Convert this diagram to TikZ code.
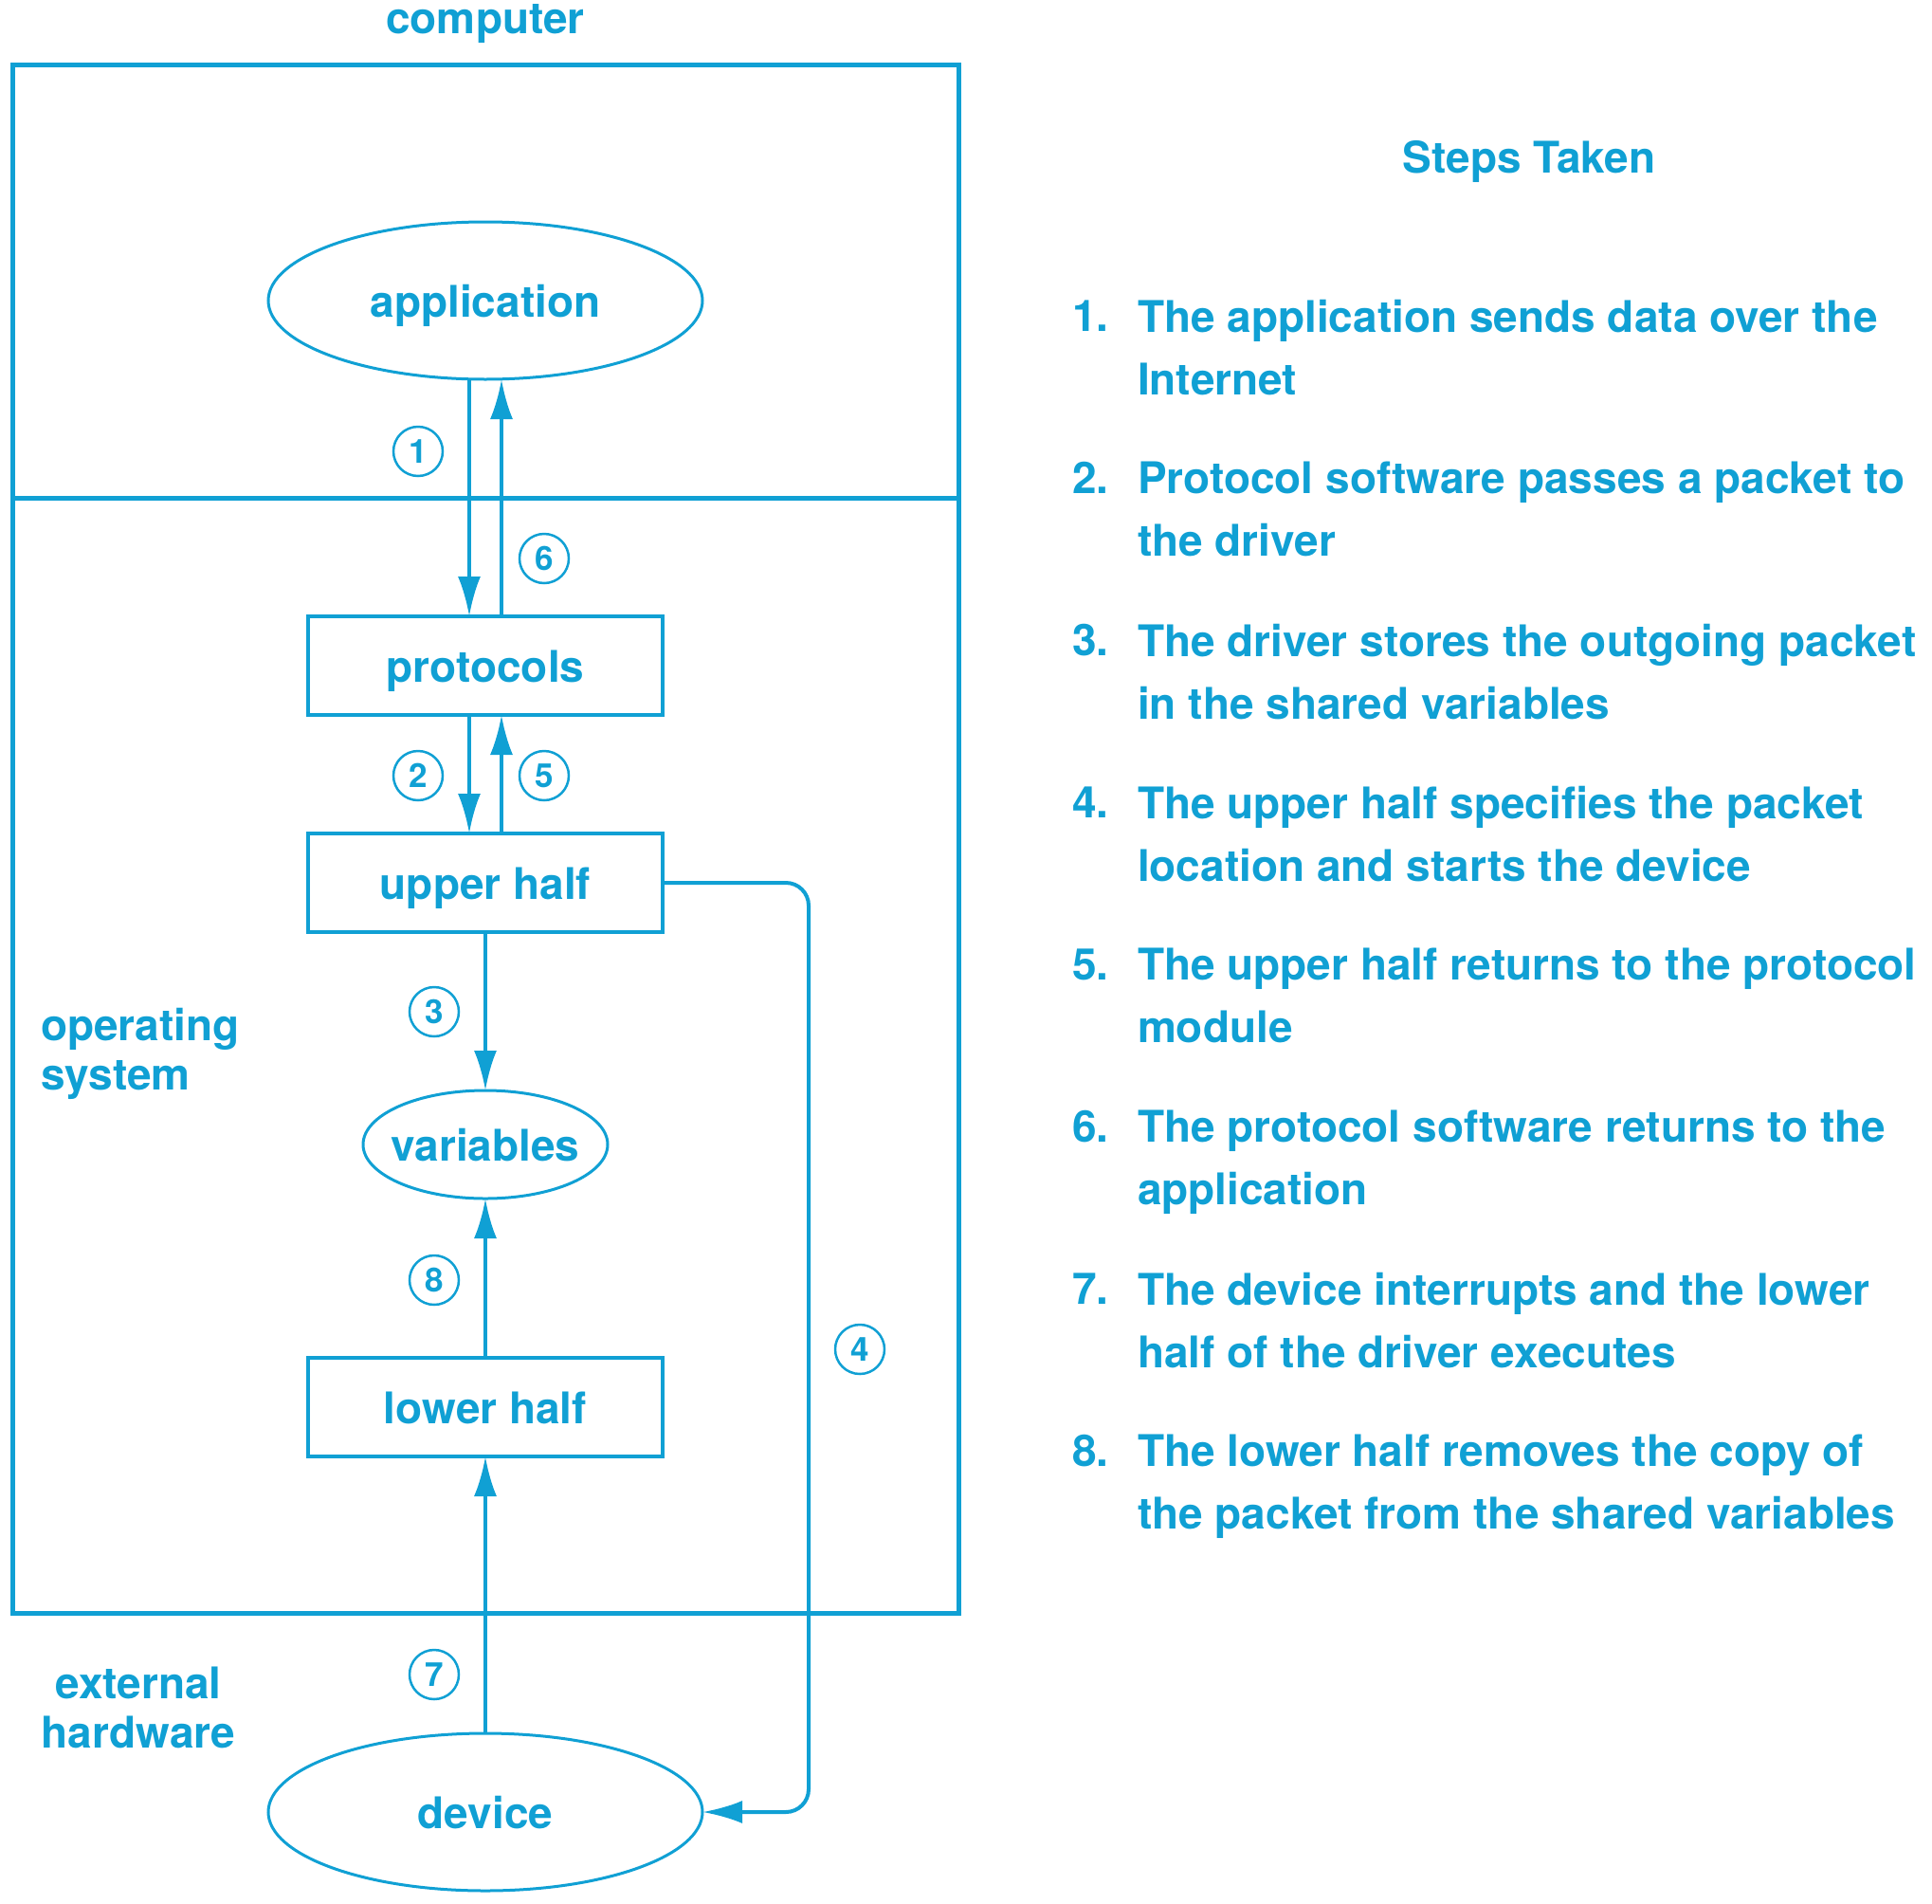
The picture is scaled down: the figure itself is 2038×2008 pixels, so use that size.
\documentclass[tikz,border=0pt]{standalone}
\usepackage{fontspec}
\setmainfont{TeX Gyre Heros}
\usetikzlibrary{shapes.geometric,arrows.meta}
\definecolor{netblue}{RGB}{16,160,212}

\begin{document}
\begin{tikzpicture}[y=1pt, x=1pt, yscale=-1, inner sep=0pt, outer sep=0pt,
  every node/.style={text=netblue, font=\fontsize{46}{52}\selectfont\bfseries},
  oneline/.style={text height=35pt, text depth=1pt},
  unitbox/.style={oneline, draw=netblue, line width=4pt, minimum width=374pt, minimum height=104pt},
  blob/.style={oneline, draw=netblue, line width=3pt, ellipse},
  stepnum/.style={draw=netblue, line width=2.5pt, circle, minimum size=52pt, font=\fontsize{35}{35}\selectfont\bfseries},
  steptext/.style={align=left, anchor=north west, font=\fontsize{46}{66}\selectfont\bfseries},
  flow/.style={draw=netblue, line width=4pt, -{Latex[length=42pt,width=24pt]}}]
\useasboundingbox (0,0) rectangle (2038,2008);

\path[draw=netblue,line width=5pt] (13,68) rectangle (1011,1701);

\path[draw=netblue,line width=5pt] (13,525) -- (1011,525);

\node[oneline] (computer) at (512,18) {computer};

\node[blob, minimum width=458pt, minimum height=166pt] (application) at (512,317) {application};

\node[unitbox] (protocols) at (512,702) {protocols};

\node[unitbox] (upperhalf) at (512,931) {upper half};

\node[blob, inner xsep=-10pt, minimum width=258pt, minimum height=114pt] (variables) at (512,1207) {variables};

\node[unitbox] (lowerhalf) at (512,1484) {lower half};

\node[blob, minimum width=458pt, minimum height=166pt] (device) at (512,1911) {device};

\node[align=left, anchor=west] (opsys) at (43,1111) {operating\\system};

\node[align=center] (exthw) at (146,1801) {external\\hardware};

\path[flow] ([xshift=-17pt]application.south) -- ([xshift=-17pt]protocols.north);

\path[flow] ([xshift=17pt]protocols.north) -- ([xshift=17pt]application.south);

\path[flow] ([xshift=-17pt]protocols.south) -- ([xshift=-17pt]upperhalf.north);

\path[flow] ([xshift=17pt]upperhalf.north) -- ([xshift=17pt]protocols.south);

\path[flow] (upperhalf.south) -- (variables.north);

\coordinate (bend) at (853,1400);

\path[flow, rounded corners=24pt] (upperhalf.east) -| (bend |- device.east) -- (device.east);

\path[flow] (device.north) -- (lowerhalf.south);

\path[flow] (lowerhalf.north) -- (variables.south);

\node[stepnum] (n1) at (441,476) {1};

\node[stepnum] (n6) at (574,589) {6};

\node[stepnum] (n2) at (441,818) {2};

\node[stepnum] (n5) at (574,818) {5};

\node[stepnum] (n3) at (458,1067) {3};

\node[stepnum] (n8) at (458,1350) {8};

\node[stepnum] (n4) at (907,1423) {4};

\node[stepnum] (n7) at (458,1766) {7};

\node[oneline] (steps) at (1613,165) {Steps Taken};

\node[anchor=base west] (s1) at (1131,349) {1.};
\node[steptext] (t1) at (1200,316) {The application sends data over the\\Internet};

\node[anchor=base west] (s2) at (1131,520) {2.};
\node[steptext] (t2) at (1200,487) {Protocol software passes a packet to\\the driver};

\node[anchor=base west] (s3) at (1131,691) {3.};
\node[steptext] (t3) at (1200,658) {The driver stores the outgoing packet\\in the shared variables};

\node[anchor=base west] (s4) at (1131,862) {4.};
\node[steptext] (t4) at (1200,829) {The upper half specifies the packet\\location and starts the device};

\node[anchor=base west] (s5) at (1131,1033) {5.};
\node[steptext] (t5) at (1200,1000) {The upper half returns to the protocol\\module};

\node[anchor=base west] (s6) at (1131,1204) {6.};
\node[steptext] (t6) at (1200,1171) {The protocol software returns to the\\application};

\node[anchor=base west] (s7) at (1131,1375) {7.};
\node[steptext] (t7) at (1200,1342) {The device interrupts and the lower\\half of the driver executes};

\node[anchor=base west] (s8) at (1131,1546) {8.};
\node[steptext] (t8) at (1200,1513) {The lower half removes the copy of\\the packet from the shared variables};

\end{tikzpicture}
\end{document}
